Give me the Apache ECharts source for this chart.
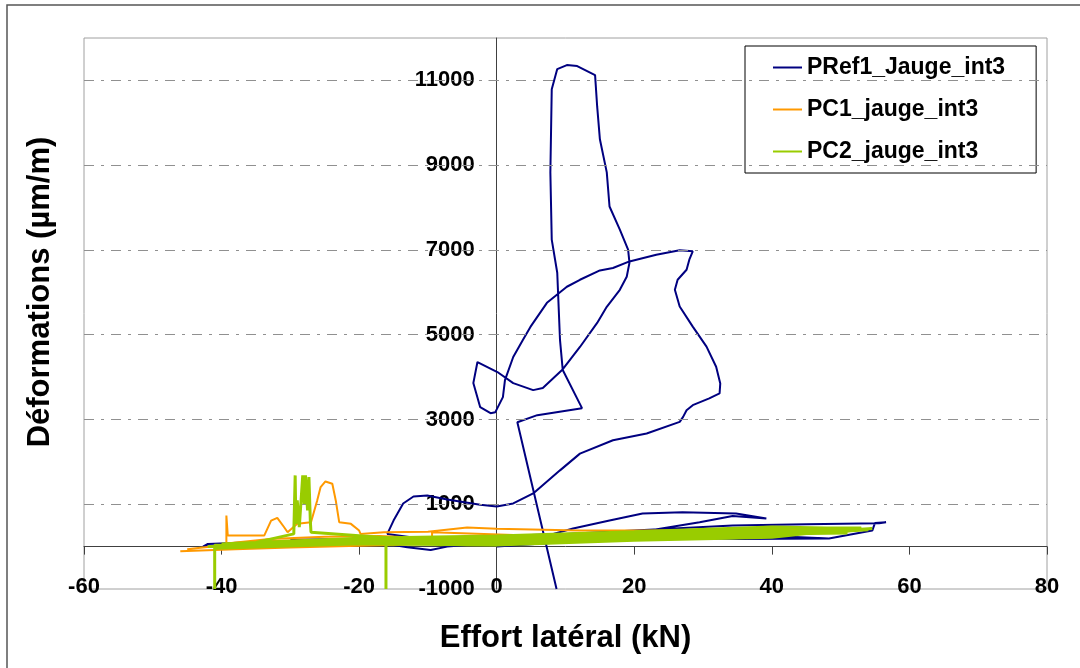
<!DOCTYPE html>
<html>
<head>
<meta charset="utf-8">
<script src="https://cdn.jsdelivr.net/npm/echarts@6/dist/echarts.min.js"></script>
<style>
  html, body { margin: 0; padding: 0; background: #fff; }
  #chart { width: 1080px; height: 668px; }
</style>
</head>
<body>
<div id="chart"></div>
<script>
// Data: [effort (kN), deformation (µm/m)]
var pref1 = [
  [0,0],[10,110],[20,160],[30,190],[40,200],[48.3,189],[40,250],[30,280],[20,300],[10,280],[0,200],
  [-10,120],[-20,100],[-32.4,118],[-35.7,102],[-42,63],[-42.7,0],[-35,30],[-25,60],[-15,40],
  [-13,-16],[-9.6,-78],[-7.2,0],[0,90],[6,200],[11.1,426],[16.4,615],[21.2,781],[27,812],
  [34.8,781],[39.2,663],[34.3,720],[29.5,576],[22.2,379],[16,260],[8,150],[0,120],[-10,100],
  [-20,130],[-30,160],[-20,180],[-10,210],[0,250],[10,300],[20,380],[34.3,497],[45,525],
  [55.6,552],[56.6,575],[55,560],[54.6,379],[48.3,189],[35.3,182],[24.7,220],[11.6,260],
  [6.7,102],[0,80],[-8,120],[-15.9,300],[-15,615],[-13.6,1018],[-12.1,1183],[-10.1,1207],
  [-7.2,1112],[-2.4,987],[0,947],[2.4,1018],[5.3,1254],[9.2,1799],[12.1,2194],[16.9,2509],
  [21.8,2668],[26.6,2942],[27.1,3060],[27.6,3219],[28.5,3337],[30.9,3496],[32.4,3614],
  [32.5,3851],[31.9,4244],[30.5,4717],[28.5,5191],[26.6,5664],[25.9,6059],[26.3,6296],
  [27.6,6532],[28,6769],[28.5,6966],[26.6,6990],[23.2,6888],[19.3,6729],[16.9,6573],
  [15,6516],[12.1,6296],[10.2,6131],[7.3,5752],[4.9,5184],[3.8,4876],[2.4,4474],[1.2,3929],
  [0.9,3527],[-0.2,3172],[-0.9,3148],[-2.4,3290],[-3.4,3858],[-2.8,4355],[0.1,4119],
  [2.4,3858],[5.3,3692],[6.7,3740],[9.5,4166],[12.1,4710],[14.6,5278],[16,5657],[17.9,6059],
  [18.9,6367],[19.3,6698],[19.1,7006],[17.9,7479],[16.4,8024],[16,8829],[15,9610],
  [14.6,10391],[14.3,11125],[11.7,11338],[10.2,11361],[8.8,11267],[8,10793],[7.8,8829],
  [8,7243],[8.8,6462],[9.2,4876],[9.6,4166],[12.4,3267],[5.9,3101],[3,2935],[8.7,-1000]
];

var pc1 = [
  [-46,-110],[-38,-60],[-30,-20],[-20,20],[-10,60],[0,100],[20,200],[40,300],[53,400],
  [50,340],[35,260],[20,220],[0,200],[-10,200],[-17,250],[-25,230],[-33,180],[-39.3,71],
  [-39.3,734],[-39.1,260],[-33.8,260],[-32.8,615],[-31.9,679],[-30.9,457],[-30.4,339],
  [-29,537],[-27,576],[-26.1,1089],[-25.6,1404],[-24.9,1538],[-23.9,1484],[-23.4,1089],
  [-22.9,576],[-21.2,537],[-20,379],[-19.8,300],[-16.4,339],[-10,350],[-4.3,450],[0,420],
  [12,379],[25,380],[40,380],[52,420],[45,300],[30,260],[10,230],[-9.4,339],[-9.4,200],
  [-20,180],[-35,120],[-45,-60]
];

var pc2 = [
  [-42,0],[-20,80],[0,60],[20,160],[40,240],[54.6,426],
  [45,330],[30,300],[10,200],[-10,120],[-30,40],[-41,20],[-41,-1000],[-41,30],
  [-30,90],[-16.1,110],[-16.1,-1000],[-16.1,130],
  [0,170],[20,260],[40,340],[53,440],
  [40,440],[20,330],[0,240],[-15,200],[-27,339],
  [-27.1,615],[-27.3,1640],[-27.5,852],[-27.8,1680],[-28,1010],[-28.2,1680],[-28.7,457],
  [-29,1089],[-29.2,537],[-29.3,1680],[-29.5,300],[-35,100],[-40,60],
  [-20,200],[0,250],[20,350],[40,460],[52,430],
  [40,220],[20,150],[0,40],[-20,70],[-41,-40],
  [-30,60],[-10,120],[0,120],[20,210],[40,300],[51,320],
  [40,380],[20,290],[0,200],[-20,140],[-40,20],
  [-20,100],[0,90],[20,190],[40,270],[54,400]
];

var xTicks = { min: -60, max: 80, step: 20 };
var yTicks = { min: -1000, max: 12000, step: 1000 };
var gridLevels = [1000, 3000, 5000, 7000, 9000, 11000];

var font = 'Liberation Sans, Arial, sans-serif';

var chart = echarts.init(document.getElementById('chart'), null, { renderer: 'canvas' });

// y axis sits at x = 0: shift the label axis from the grid's left edge to that spot
var gridLeft = 84, gridRight = 33;
var zeroOffset = (0 - xTicks.min) / (xTicks.max - xTicks.min) * (1080 - gridLeft - gridRight);

chart.setOption({
  backgroundColor: '#fff',
  animation: false,
  graphic: [{
    type: 'rect',
    shape: { x: 7, y: 5, width: 1100, height: 700 },
    style: { fill: 'none', stroke: '#555', lineWidth: 1.5 },
    silent: true
  }, {
    type: 'text',
    x: 40, y: 292,
    rotation: Math.PI / 2,
    style: {
      text: 'Déformations (µm/m)',
      font: 'bold 31px ' + font,
      fill: '#000',
      align: 'center', verticalAlign: 'middle'
    },
    silent: true
  }],
  grid: {
    left: gridLeft, right: gridRight, top: 38, bottom: 79,
    show: true, borderColor: '#a0a0a0', borderWidth: 1, backgroundColor: '#fff'
  },
  legend: {
    data: ['PRef1_Jauge_int3', 'PC1_jauge_int3', 'PC2_jauge_int3'],
    orient: 'vertical',
    left: 745, top: 46,
    padding: [10, 31, 10, 28],
    itemGap: 19,
    itemWidth: 29,
    itemHeight: 2,
    icon: 'rect',
    borderColor: '#000', borderWidth: 1,
    backgroundColor: '#fff',
    textStyle: { fontFamily: font, fontWeight: 'bold', fontSize: 23, color: '#000', lineHeight: 22 }
  },
  xAxis: [{
    type: 'value',
    min: xTicks.min, max: xTicks.max, interval: xTicks.step,
    axisLine: { onZero: true, lineStyle: { color: '#404040', width: 1 } },
    axisTick: { show: true, length: 8, lineStyle: { color: '#404040' } },
    axisLabel: { show: false },
    splitLine: { show: false }
  }, {
    type: 'value', position: 'bottom',
    min: xTicks.min, max: xTicks.max, interval: xTicks.step,
    axisLine: { show: false, onZero: false },
    axisTick: { show: false },
    splitLine: { show: false },
    axisLabel: {
      margin: -2, verticalAlign: 'middle',
      fontFamily: font, fontWeight: 'bold', fontSize: 22, color: '#000'
    },
    name: 'Effort latéral (kN)',
    nameLocation: 'middle',
    nameGap: 34,
    nameTextStyle: { fontFamily: font, fontWeight: 'bold', fontSize: 31, color: '#000' }
  }],
  yAxis: [{
    type: 'value',
    min: yTicks.min, max: yTicks.max, interval: yTicks.step,
    axisLine: { onZero: true, lineStyle: { color: '#404040', width: 1 } },
    axisTick: { show: true, length: 8, customValues: gridLevels, lineStyle: { color: '#404040' } },
    axisLabel: { show: false },
    splitLine: { show: false }
  }, {
    type: 'value', position: 'left',
    offset: -zeroOffset,
    min: yTicks.min, max: yTicks.max, interval: yTicks.step,
    axisLine: { show: false, onZero: false },
    axisTick: { show: false },
    splitLine: { show: false },
    axisLabel: {
      margin: 22,
      fontFamily: font, fontWeight: 'bold', fontSize: 22, color: '#000',
      formatter: function (v) { return gridLevels.indexOf(v) >= 0 || v === yTicks.min ? String(v) : ''; }
    }
  }],
  series: [{
    name: 'grid',
    type: 'line',
    data: [],
    z: 1,
    silent: true,
    markLine: {
      silent: true,
      symbol: 'none',
      label: { show: false },
      lineStyle: { color: '#909090', width: 1, type: [10, 7, 3, 7] },
      data: gridLevels.map(function (v) { return { yAxis: v }; })
    }
  }, {
    name: 'PRef1_Jauge_int3', type: 'line', data: pref1,
    symbol: 'none', showSymbol: false, z: 3,
    lineStyle: { color: '#000080', width: 2 }, itemStyle: { color: '#000080' }
  }, {
    name: 'PC1_jauge_int3', type: 'line', data: pc1,
    symbol: 'none', showSymbol: false, z: 4,
    lineStyle: { color: '#ff9900', width: 2 }, itemStyle: { color: '#ff9900' }
  }, {
    name: 'PC2_jauge_int3', type: 'line', data: pc2,
    symbol: 'none', showSymbol: false, z: 5,
    lineStyle: { color: '#99cc00', width: 3 }, itemStyle: { color: '#99cc00' }
  }]
});
</script>
</body>
</html>
